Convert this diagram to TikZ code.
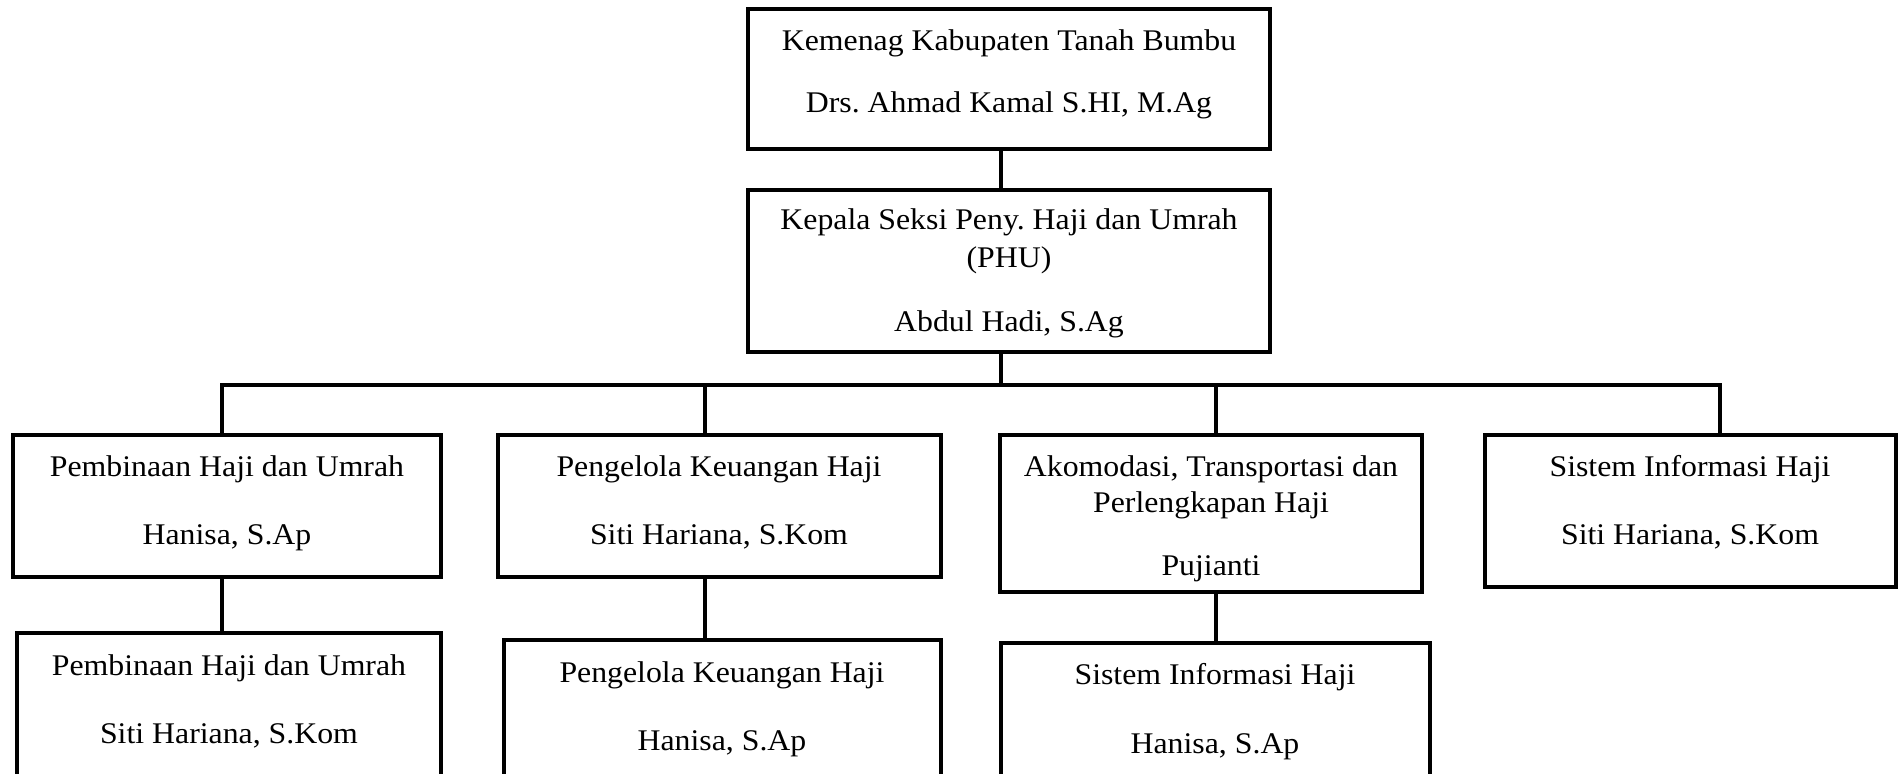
\documentclass[tikz,border=0pt]{standalone}
\usepackage{fontspec}
\setmainfont{Liberation Serif}[FakeStretch=1.06]
\usetikzlibrary{fit}
\frenchspacing
\begin{document}
\begin{tikzpicture}[x=0.5pt,y=-0.5pt,
  box/.style={draw=black, line width=2.4pt, inner sep=0pt, fill=none},
  conn/.style={draw=black, line width=2.4pt},
  txt/.style={anchor=base, inner sep=0pt, font=\fontsize{15}{18}\selectfont}]
\useasboundingbox (0,0) rectangle (1899,774);
% boxes
\node[box, fit={(748,9) (1270,149)}] (b0) {};
\node[box, fit={(748,190) (1270,352)}] (b1) {};
\node[box, fit={(13,435) (441,577)}] (c1) {};
\node[box, fit={(498,435) (941,577)}] (c2) {};
\node[box, fit={(1000,435) (1422,592)}] (c3) {};
\node[box, fit={(1485,435) (1896,587)}] (c4) {};
\node[box, fit={(17,633) (441,800)}] (e1) {};
\node[box, fit={(504,640) (941,800)}] (e2) {};
\node[box, fit={(1001,643) (1430,800)}] (e3) {};
% texts
\node[txt] (t0a) at (1009,51) {Kemenag Kabupaten Tanah Bumbu};
\node[txt] (t0b) at (1009,113) {Drs. Ahmad Kamal S.HI, M.Ag};
\node[txt] (t1a) at (1009,230) {Kepala Seksi Peny. Haji dan Umrah};
\node[txt] (t1b) at (1009,268) {(PHU)};
\node[txt] (t1c) at (1009,332) {Abdul Hadi, S.Ag};
\node[txt] (tc1a) at (227,477) {Pembinaan Haji dan Umrah};
\node[txt] (tc1b) at (227,545) {Hanisa, S.Ap};
\node[txt] (tc2a) at (719,477) {Pengelola Keuangan Haji};
\node[txt] (tc2b) at (719,545) {Siti Hariana, S.Kom};
\node[txt] (tc3a) at (1211,477) {Akomodasi, Transportasi dan};
\node[txt] (tc3b) at (1211,512) {Perlengkapan Haji};
\node[txt] (tc3c) at (1211,575) {Pujianti};
\node[txt] (tc4a) at (1690,477) {Sistem Informasi Haji};
\node[txt] (tc4b) at (1690,545) {Siti Hariana, S.Kom};
\node[txt] (te1a) at (229,675) {Pembinaan Haji dan Umrah};
\node[txt] (te1b) at (229,743) {Siti Hariana, S.Kom};
\node[txt] (te2a) at (722,682) {Pengelola Keuangan Haji};
\node[txt] (te2b) at (722,750) {Hanisa, S.Ap};
\node[txt] (te3a) at (1215,684) {Sistem Informasi Haji};
\node[txt] (te3b) at (1215,753) {Hanisa, S.Ap};
% connector coordinates
\coordinate (j0) at (1001,385);
\coordinate (d1) at (222,385);
\coordinate (d2) at (705,385);
\coordinate (d3) at (1216,385);
\coordinate (d4) at (1720,385);
% connectors
\draw[conn] (j0 |- b0.south) -- (j0 |- b1.north);
\draw[conn] (j0 |- b1.south) -- (j0);
\draw[conn] (d1 |- c1.north) -- (d1) -- (d4) -- (d4 |- c4.north);
\draw[conn] (d2) -- (d2 |- c2.north);
\draw[conn] (d3) -- (d3 |- c3.north);
\draw[conn] (d1 |- c1.south) -- (d1 |- e1.north);
\draw[conn] (d2 |- c2.south) -- (d2 |- e2.north);
\draw[conn] (d3 |- c3.south) -- (d3 |- e3.north);
\end{tikzpicture}
\end{document}
